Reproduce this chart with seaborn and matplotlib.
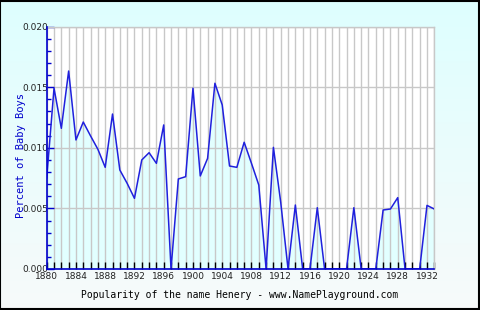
import numpy as np
import pandas as pd
import matplotlib
matplotlib.use("Agg")
import matplotlib.pyplot as plt
import seaborn as sns
from matplotlib.ticker import MultipleLocator

years = list(range(1880, 1934))
percent = [0.00749, 0.01492, 0.01161, 0.01634, 0.01065, 0.01213, 0.01098, 0.00988,
           0.00839, 0.01279, 0.00817, 0.00707, 0.00583, 0.00900, 0.00960, 0.00872,
           0.01189, 0.0, 0.00743, 0.00762, 0.01492, 0.00768, 0.00913, 0.01533,
           0.01354, 0.00850, 0.00839, 0.01046, 0.00872, 0.00693, 0.0, 0.01004,
           0.00550, 0.0, 0.00528, 0.0, 0.0, 0.00506, 0.0, 0.0,
           0.0, 0.0, 0.00506, 0.0, 0.0, 0.0, 0.00487, 0.00495,
           0.00589, 0.0, 0.0, 0.0, 0.00525, 0.00495]
x_tick_labels = [str(y) for y in range(1880, 1933, 4)]
y_tick_labels = ["0.000", "0.005", "0.010", "0.015", "0.020"]
title_text = "Popularity of the name Henery - www.NamePlayground.com"
ylabel_text = "Percent of Baby Boys"

df = pd.DataFrame({"year": years, "percent": percent})

sns.set_style("white")
plt.rcParams["font.family"] = ["DejaVu Sans"]

fig = plt.figure(figsize=(4.8, 3.1), dpi=100)

# gradient background
bg = fig.add_axes([0, 0, 1, 1], zorder=-10)
grad = np.linspace(0, 1, 256).reshape(-1, 1)
top = np.array([0.87, 1.0, 1.0])
bot = np.array([0.97, 0.98, 0.98])
img = top[None, None, :] * (1 - grad[:, :, None]) + bot[None, None, :] * grad[:, :, None]
bg.imshow(img, aspect="auto", extent=[0, 1, 0, 1])
bg.set_xlim(0, 1); bg.set_ylim(0, 1)
bg.axis("off")
bg.add_patch(plt.Rectangle((0.001, 0.002), 0.997, 0.995, fill=False, ec="black", lw=1.5,
                           transform=bg.transAxes))

ax = fig.add_axes([0.0973, 0.1323, 0.8075, 0.7816])
ax.set_facecolor("white")

ax.fill_between(df["year"], df["percent"], 0, color="#e2ffff", alpha=1.0, zorder=1.0, lw=0)
sns.lineplot(data=df, x="year", y="percent", ax=ax, color="#2020dd", lw=1.1, zorder=3)

ax.set_xlim(1880, 1933)
ax.set_ylim(0, 0.020)

ax.set_xticks(list(range(1880, 1933, 4)))
ax.set_xticklabels(x_tick_labels)
ax.xaxis.set_minor_locator(MultipleLocator(1))
ax.set_yticks([0, 0.005, 0.010, 0.015, 0.020])
ax.set_yticklabels(y_tick_labels)
ax.yaxis.set_minor_locator(MultipleLocator(0.001))

ax.grid(True, which="both", axis="x", color="#c8c8c8", lw=1)
ax.grid(True, which="major", axis="y", color="#c8c8c8", lw=1)
ax.set_axisbelow("line")

ax.tick_params(axis="x", which="both", direction="in", length=5, width=1, color="black",
               labelsize=6.5, pad=2, bottom=True)
ax.tick_params(axis="y", which="major", direction="in", length=5, width=1, color="#0000cc",
               labelsize=6.5, pad=-1, left=True)
ax.tick_params(axis="y", which="minor", direction="in", length=3, width=1, color="#0000cc", left=True)
for lbl in ax.get_yticklabels():
    lbl.set_color("#222222")
for lbl in ax.get_xticklabels():
    lbl.set_color("#222222")

for s in ["left", "bottom"]:
    ax.spines[s].set_color("#0000cc")
    ax.spines[s].set_linewidth(1.2)
    ax.spines[s].set_zorder(5)
for s in ["top", "right"]:
    ax.spines[s].set_color("#c8c8c8")
    ax.spines[s].set_linewidth(1)

ax.set_xlabel("")
ax.set_ylabel("")
fig.text(0.044, 0.5, ylabel_text, rotation=90, ha="center", va="center",
         color="#0000cc", fontsize=7.5, family="DejaVu Sans Mono")
fig.text(0.5, 0.048, title_text, ha="center", va="center", color="black",
         fontsize=7, family="DejaVu Sans Mono")

fig.savefig("out.png", dpi=100)
